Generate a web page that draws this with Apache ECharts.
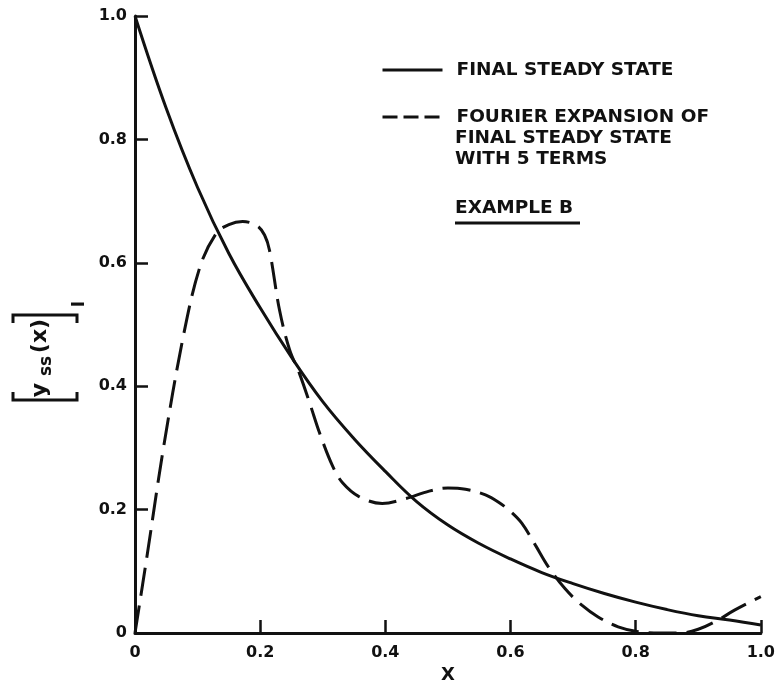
<!DOCTYPE html>
<html><head><meta charset="utf-8">
<script src="https://cdn.jsdelivr.net/npm/echarts@6/dist/echarts.min.js"></script>
<style>html,body{margin:0;padding:0;background:#fff}#c{width:778px;height:698px}</style>
</head><body><div id="c"></div>
<script>
// ---- data ----
const solidX = [0, 0.05, 0.1, 0.15, 0.2, 0.25, 0.3, 0.35, 0.4, 0.45, 0.5, 0.55, 0.6, 0.65, 0.7, 0.75, 0.8, 0.85, 0.9, 0.95, 1.0];
const solidY = [1.0, 0.85, 0.722, 0.615, 0.527, 0.447, 0.375, 0.315, 0.262, 0.213, 0.175, 0.145, 0.12, 0.098, 0.08, 0.064, 0.05, 0.038, 0.028, 0.021, 0.013];
const fourierX = [0, 0.02, 0.045, 0.077, 0.104, 0.13, 0.15, 0.172, 0.195, 0.207, 0.215, 0.231, 0.247, 0.263, 0.28, 0.295, 0.316, 0.332, 0.358, 0.395, 0.433, 0.47, 0.5, 0.528, 0.56, 0.581, 0.6, 0.618, 0.64, 0.66, 0.687, 0.714, 0.74, 0.772, 0.804, 0.84, 0.87, 0.9, 0.93, 0.958, 1.0];
const fourierY = [0, 0.13, 0.297, 0.48, 0.594, 0.648, 0.662, 0.667, 0.66, 0.645, 0.62, 0.523, 0.459, 0.42, 0.37, 0.324, 0.27, 0.243, 0.221, 0.21, 0.218, 0.23, 0.235, 0.233, 0.224, 0.212, 0.197, 0.178, 0.142, 0.108, 0.072, 0.045, 0.026, 0.01, 0.002, 0, 0, 0.006, 0.02, 0.037, 0.059];
const tickValues = [0, 0.2, 0.4, 0.6, 0.8, 1.0];
const tickLabels = ['0', '0.2', '0.4', '0.6', '0.8', '1.0'];
const seriesNames = ['FINAL STEADY STATE', 'FOURIER EXPANSION OF'];
const legendExtraLines = ['FINAL STEADY STATE', 'WITH 5 TERMS'];
const noteText = 'EXAMPLE B';
const xName = 'X';
const yNameParts = ['y', 'ss', '(x)', 'I'];

// ---- chart ----
const FONT = '"DejaVu Sans", sans-serif';
const INK = '#111';
const fmt = v => { const i = tickValues.findIndex(t => Math.abs(t - v) < 1e-9); return i >= 0 ? tickLabels[i] : ''; };
const pairs = (xs, ys) => xs.map((x, i) => [x, ys[i]]);

const chart = echarts.init(document.getElementById('c'), null, {renderer: 'canvas'});
const axisCommon = {
  type: 'value', min: 0, max: 1, interval: 0.2,
  axisLine: {show: true, onZero: false, lineStyle: {color: INK, width: 3}},
  axisTick: {show: true, inside: true, length: 13, lineStyle: {color: INK, width: 2.5}},
  splitLine: {show: false},
  axisLabel: {formatter: fmt, color: INK, fontFamily: FONT, fontWeight: 'bold', fontSize: 16}
};
const blackText = (text, x, y, size) => ({
  type: 'text', x: x, y: y,
  style: {text: text, x: 0, y: 0, fill: INK, font: 'bold ' + size + 'px ' + FONT, align: 'left', verticalAlign: 'middle'}
});
const rotText = (text, x, y, size) => ({
  type: 'text', x: x, y: y, rotation: Math.PI / 2,
  style: {text: text, x: 0, y: 0, fill: INK, font: 'bold ' + size + 'px ' + FONT, align: 'center', verticalAlign: 'middle'}
});
const seg = (pts) => ({type: 'polyline', shape: {points: pts}, style: {stroke: INK, lineWidth: 3, fill: null}});
const hiddenSymbol = {color: 'rgba(0,0,0,0)', borderColor: 'rgba(0,0,0,0)', borderWidth: 0, opacity: 0};

chart.setOption({
  animation: false,
  backgroundColor: '#fff',
  grid: {left: 135, right: 15, top: 16, bottom: 65, containLabel: false},
  xAxis: Object.assign({}, axisCommon, {
    name: xName, nameLocation: 'middle', nameGap: 22,
    nameTextStyle: {color: INK, fontFamily: FONT, fontWeight: 'bold', fontSize: 18},
    axisLabel: Object.assign({}, axisCommon.axisLabel, {margin: 12})
  }),
  yAxis: Object.assign({}, axisCommon, {
    axisLabel: Object.assign({}, axisCommon.axisLabel, {margin: 8})
  }),
  legend: {
    orient: 'vertical', left: 381, top: 60, padding: 0, itemWidth: 60, itemHeight: 14, itemGap: 27,
    selectedMode: false,
    data: [
      {name: seriesNames[0], lineStyle: {type: 'solid', width: 3}, itemStyle: hiddenSymbol},
      {name: seriesNames[1], lineStyle: {type: [15, 6], width: 3}, itemStyle: hiddenSymbol}
    ],
    textStyle: {color: INK, fontFamily: FONT, fontWeight: 'bold', fontSize: 18.5, lineHeight: 20, padding: [0, 0, 0, 9]}
  },
  series: [
    {name: seriesNames[0], type: 'line', data: pairs(solidX, solidY), smooth: 0.4, symbol: 'none', showSymbol: false,
     lineStyle: {color: INK, width: 3, type: 'solid'}, itemStyle: {color: INK}, z: 3},
    {name: seriesNames[1], type: 'line', data: pairs(fourierX, fourierY), smooth: 0.35, symbol: 'none', showSymbol: false,
     lineStyle: {color: INK, width: 3, type: [28, 10]}, itemStyle: {color: INK}, z: 3}
  ],
  graphic: [
    blackText(legendExtraLines[0], 455, 138, 18.5),
    blackText(legendExtraLines[1], 455, 159, 18.5),
    blackText(noteText, 455, 208, 18.5),
    seg([[455, 223], [580, 223]]),
    // y-axis label: [ y_ss(x) ]_I  (rotated)
    seg([[13, 392], [13, 400], [77, 400], [77, 392]]),
    seg([[13, 323], [13, 315], [77, 315], [77, 323]]),
    rotText(yNameParts[0], 40, 390, 22),
    rotText(yNameParts[1], 47, 366, 17),
    rotText(yNameParts[2], 40, 336, 22),
    rotText(yNameParts[3], 80, 304, 17)
  ]
});
</script>
</body></html>
